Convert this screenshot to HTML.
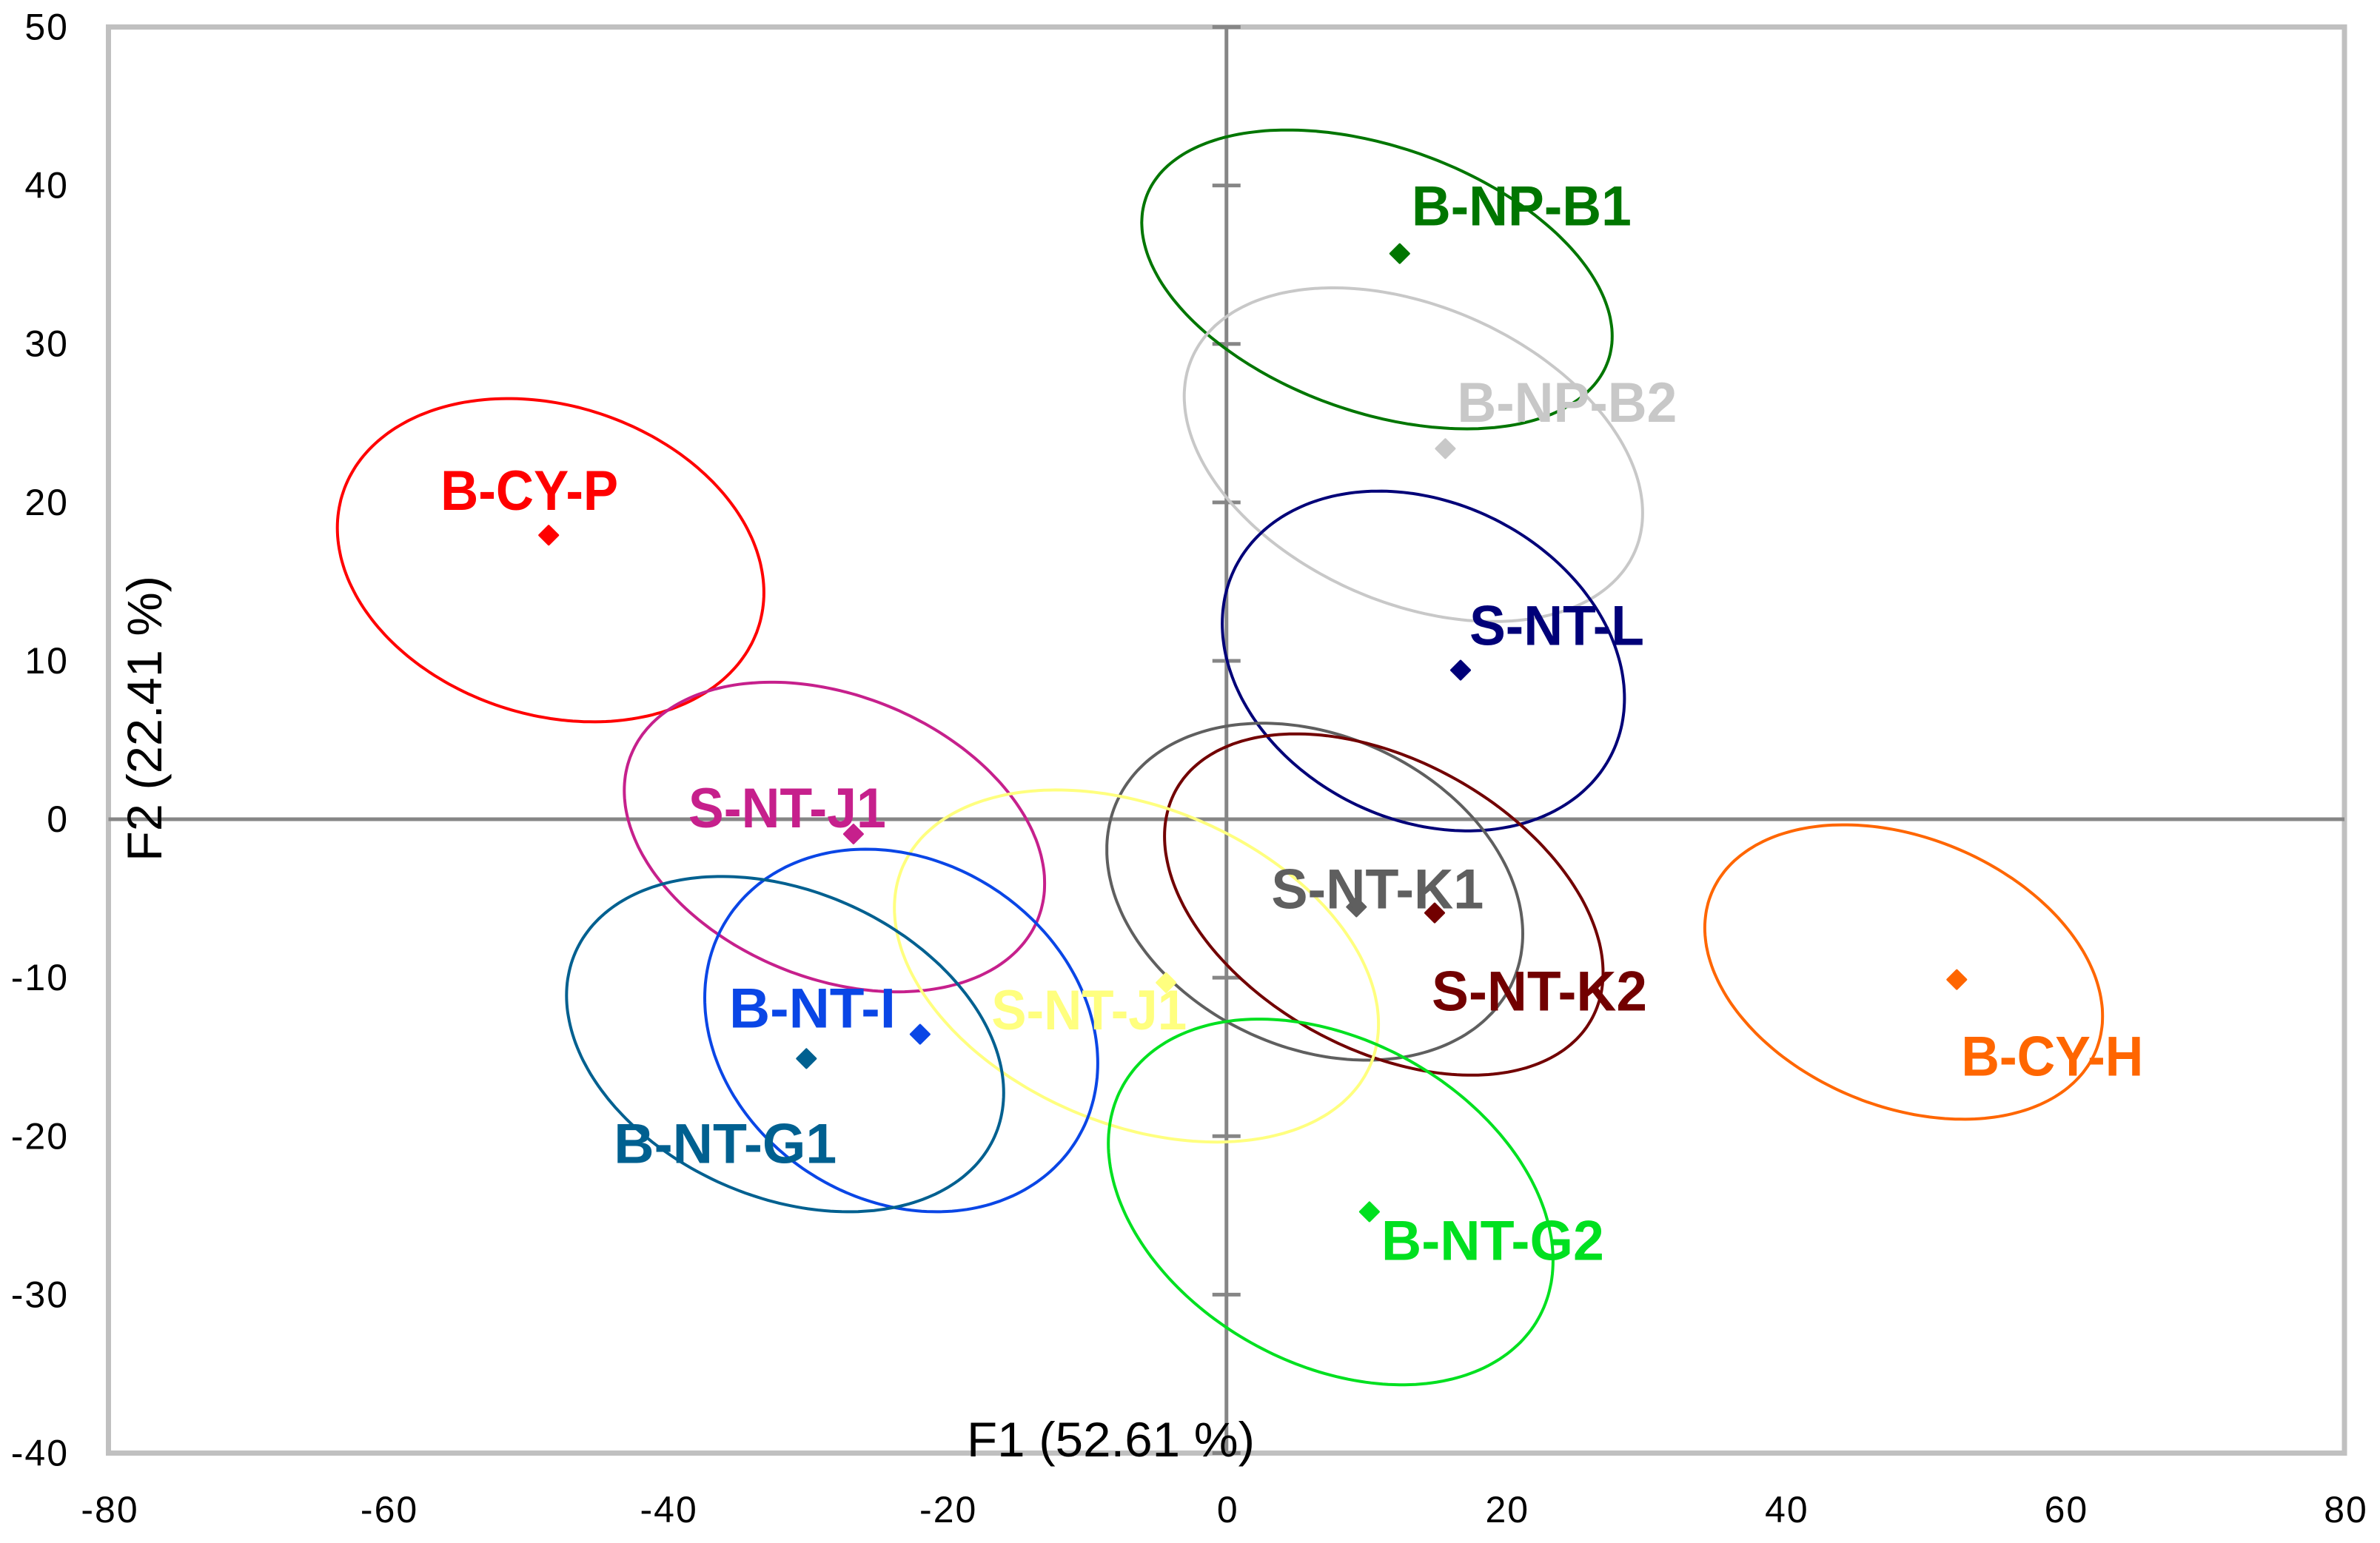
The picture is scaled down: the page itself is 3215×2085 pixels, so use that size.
<!DOCTYPE html>
<html lang="en">
<head>
<meta charset="utf-8">
<title>PCA biplot F1 vs F2</title>
<style>
html,body{margin:0;padding:0;background:#fff;}
svg{display:block;font-family:"Liberation Sans",sans-serif;}
</style>
</head>
<body>
<svg id="chart" xmlns="http://www.w3.org/2000/svg" width="3215" height="2085" viewBox="0 0 3215 2085">
<rect x="0" y="0" width="3215" height="2085" fill="#ffffff"/>
<rect x="146.5" y="36.5" width="3020.5" height="1927" fill="none" stroke="#c0c0c0" stroke-width="7"/>
<g id="axes"></g>
<g id="ellipses"></g>
<g id="markers"></g>
<g id="labels"></g>
<g id="ticklabels"></g>
<text x="1306" y="1968" font-size="66" fill="#000" textLength="389" lengthAdjust="spacingAndGlyphs">F1 (52.61 %)</text>
<text transform="translate(218,1164) rotate(-90)" font-size="66" fill="#000" textLength="386" lengthAdjust="spacingAndGlyphs">F2 (22.41 %)</text>
</svg>
<script>
const groupNames = ["B-CY-P","B-NP-B1","B-NP-B2","S-NT-L","S-NT-K1","S-NT-K2","B-CY-H","S-NT-J1","S-NT-J1","B-NT-I","B-NT-G1","B-NT-G2"];
const meanF1 = [-48.5,12.4,15.66,16.75,9.3,14.9,52.26,-26.69,-4.32,-21.92,-30.06,10.23];
const meanF2 = [17.93,35.7,23.39,9.41,-5.53,-5.91,-10.12,-0.93,-10.31,-13.57,-15.1,-24.77];
const ellipseCenterF1 = [-48.36,10.77,13.38,14.09,6.32,11.26,48.46,-28.05,-6.44,-23.27,-31.58,7.46];
const ellipseCenterF2 = [16.35,34.07,23.01,9.99,-4.57,-5.38,-9.64,-1.12,-9.26,-13.33,-14.19,-24.15];
const ellipseHalfF1 = [15.26,16.83,16.4,14.39,14.88,15.69,14.23,15.04,17.32,14.06,15.64,15.91];
const ellipseHalfF2 = [10.2,9.43,10.53,10.72,10.63,10.77,9.29,9.77,11.11,11.44,10.58,11.54];
const ellipseCorr = [-0.2,-0.38,-0.35,-0.22,-0.25,-0.4,-0.3,-0.3,-0.33,-0.18,-0.29,-0.32];
const xTicks = [-80,-60,-40,-20,0,20,40,60,80];
const yTicks = [-40,-30,-20,-10,0,10,20,30,40,50];

const groupColors = ["#ff0000","#007600","#c8c8c8","#000078","#5f5f5f","#720000","#ff6600","#c6208c","#ffff7f","#0a46e6","#006090","#00e020"];
const labelLayout = [[-146,-34,240],[16,-38,297],[16,-36,297],[12,-34,236],[-115,2,287],[-4,132,291],[6,130,246],[-223,-9,267],[-236,63,264],[-258,-9,225],[-260,141,301],[16,65,301]];

const NS = "http://www.w3.org/2000/svg";
const plot = {left:146.5,right:3167,top:36.5,bottom:1963.5};
const xMin = -80, xMax = 80, yMin = -40, yMax = 50;
function sx(v){return plot.left + (v - xMin) / (xMax - xMin) * (plot.right - plot.left);}
function sy(v){return plot.bottom - (v - yMin) / (yMax - yMin) * (plot.bottom - plot.top);}
function make(tag, attrs, parent){
  const el = document.createElementNS(NS, tag);
  for (const k in attrs) el.setAttribute(k, attrs[k]);
  parent.appendChild(el);
  return el;
}
function slug(i){return groupNames[i].toLowerCase() + "-" + i;}

const axes = document.getElementById("axes");
const hAxis = make("line", {x1:sx(xMin),x2:sx(xMax),y1:sy(0),y2:sy(0),stroke:"#868686","stroke-width":5}, axes);


const vAxis = make("line", {x1:sx(0),x2:sx(0),y1:sy(yMax),y2:sy(yMin),stroke:"#868686","stroke-width":5}, axes);


yTicks.forEach(function(t){
  const tick = make("line", {x1:sx(0)-19,x2:sx(0)+19,y1:sy(t),y2:sy(t),stroke:"#868686","stroke-width":5}, axes);
  
  
});

const ellipses = document.getElementById("ellipses");
groupNames.forEach(function(n,i){
  const rho = ellipseCorr[i], q = Math.sqrt(1 - rho * rho);
  let d = "";
  for (let k = 0; k < 240; k++){
    const t = k / 240 * 2 * Math.PI;
    const px = sx(ellipseCenterF1[i] + ellipseHalfF1[i] * Math.cos(t));
    const py = sy(ellipseCenterF2[i] + ellipseHalfF2[i] * (rho * Math.cos(t) + q * Math.sin(t)));
    d += (k ? "L" : "M") + px.toFixed(1) + " " + py.toFixed(1);
  }
  const path = make("path", {d:d + "Z",fill:"none",stroke:groupColors[i],"stroke-width":4}, ellipses);
  
  
});

const markers = document.getElementById("markers");
groupNames.forEach(function(n,i){
  const cx = sx(meanF1[i]), cy = sy(meanF2[i]), r = 12.5;
  const pts = [[cx,cy-r],[cx+r,cy],[cx,cy+r],[cx-r,cy]].map(function(p){return p[0].toFixed(1)+","+p[1].toFixed(1);}).join(" ");
  const mark = make("polygon", {points:pts,fill:groupColors[i],stroke:groupColors[i],"stroke-width":3,"stroke-linejoin":"round"}, markers);
  
  
});

const labels = document.getElementById("labels");
groupNames.forEach(function(n,i){
  const lay = labelLayout[i];
  const txt = make("text", {x:sx(meanF1[i])+lay[0],y:sy(meanF2[i])+lay[1],"font-size":76,"font-weight":"bold",fill:groupColors[i],textLength:lay[2],lengthAdjust:"spacingAndGlyphs"}, labels);
  txt.textContent = n;
  
  
});

const tl = document.getElementById("ticklabels");
xTicks.forEach(function(t){
  const txt = make("text", {x:sx(t)+2,y:2057,"font-size":50,fill:"#000","text-anchor":"middle","letter-spacing":"2"}, tl);
  txt.textContent = String(t);
  
  
});
yTicks.forEach(function(t){
  const txt = make("text", {x:93,y:sy(t)+17,"font-size":50,fill:"#000","text-anchor":"end","letter-spacing":"2"}, tl);
  txt.textContent = String(t);
  
  
});
</script>
</body>
</html>
